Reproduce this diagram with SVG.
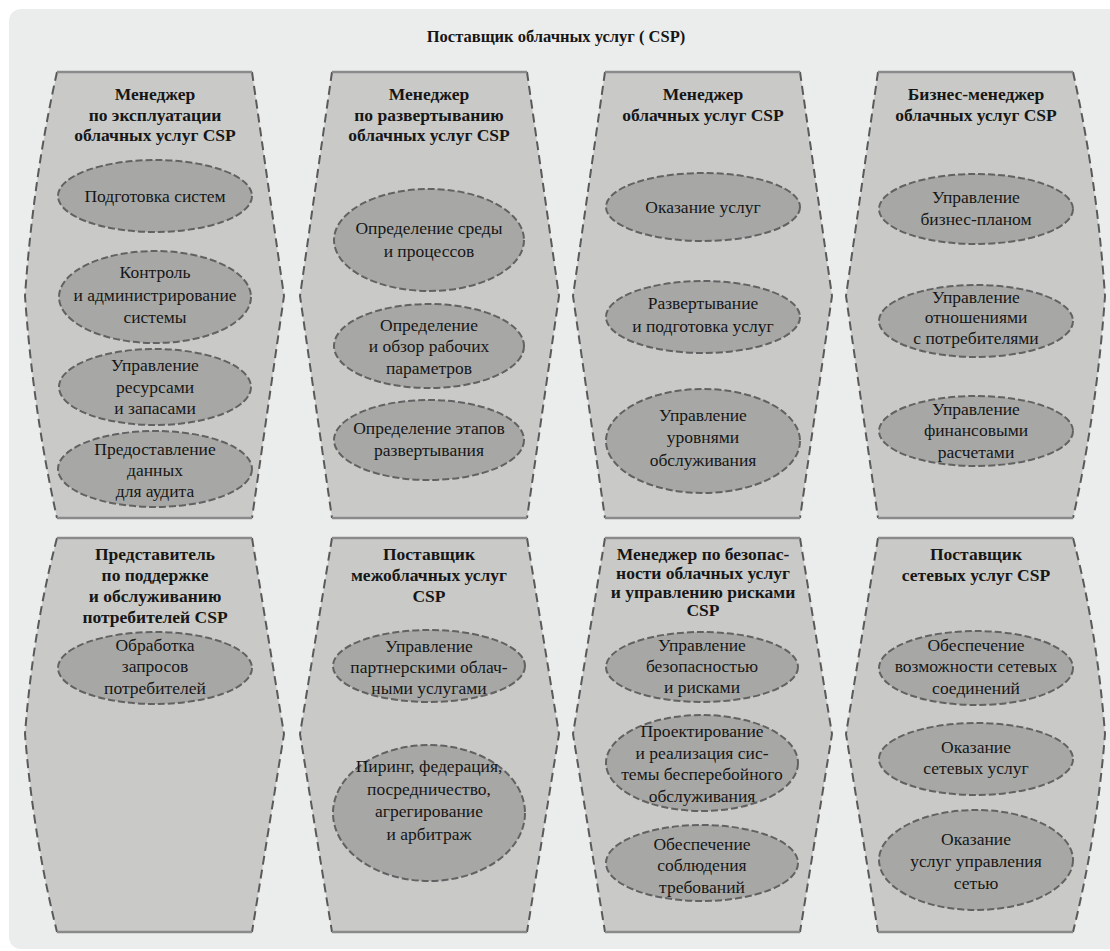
<svg xmlns="http://www.w3.org/2000/svg" width="1110" height="951" viewBox="0 0 1110 951">
  <style>
    .panel { fill: #c9cac8; stroke: none; }
    .side { fill: none; stroke: #5a5a5a; stroke-width: 2; stroke-dasharray: 9 5; }
    .cap { fill: none; stroke: #8a8a8a; stroke-width: 2.5; }
    .oval { fill: #a7a8a6; stroke: #626262; stroke-width: 2; stroke-dasharray: 7 3; }
    text { font-family: 'Liberation Serif', 'DejaVu Serif', serif; fill: #161616; text-anchor: middle; }
    .head { font-size: 17.5px; font-weight: bold; }
    .item { font-size: 17.5px; }
    .title { font-size: 16.5px; font-weight: bold; }
  </style>

  <!-- canvas -->
  <rect x="0" y="0" width="1110" height="951" fill="#ffffff"/>
  <rect x="9" y="9" width="1115" height="940" rx="12" fill="#ebecec"/>

  <text class="title" x="556" y="42">Поставщик облачных услуг ( CSP)</text>

  <!-- top row -->
  <g id="ops-manager">
    <path class="panel" d="M57,72 L252,72 L284,296 L252,518 L57,518 Q33,410 25,296 Q33,180 57,72 Z"/>
    <path class="side" d="M57,72 Q33,180 25,296 Q33,410 57,518 M252,72 L284,296 L252,518"/>
    <path class="cap" d="M57,72 L252,72 M57,518 L252,518"/>
    <text class="head" x="155" y="100">Менеджер</text>
    <text class="head" x="155" y="121">по эксплуатации</text>
    <text class="head" x="155" y="141">облачных услуг CSP</text>
    <ellipse class="oval" cx="155" cy="196" rx="97" ry="36"/>
    <text class="item" x="155" y="202">Подготовка систем</text>
    <ellipse class="oval" cx="155" cy="297" rx="96" ry="46"/>
    <text class="item" x="155" y="278">Контроль</text>
    <text class="item" x="155" y="301">и администрирование</text>
    <text class="item" x="155" y="323">системы</text>
    <ellipse class="oval" cx="155" cy="387" rx="96" ry="38"/>
    <text class="item" x="155" y="371">Управление</text>
    <text class="item" x="155" y="393">ресурсами</text>
    <text class="item" x="155" y="414">и запасами</text>
    <ellipse class="oval" cx="155" cy="469" rx="97" ry="38"/>
    <text class="item" x="155" y="455">Предоставление</text>
    <text class="item" x="155" y="476">данных</text>
    <text class="item" x="155" y="497">для аудита</text>
  </g>

  <g id="deploy-manager">
    <path class="panel" d="M332,72 L527,72 L559,296 L527,518 L332,518 L300,296 Z"/>
    <path class="side" d="M332,72 L300,296 L332,518 M527,72 L559,296 L527,518"/>
    <path class="cap" d="M332,72 L527,72 M332,518 L527,518"/>
    <text class="head" x="429" y="100">Менеджер</text>
    <text class="head" x="429" y="121">по развертыванию</text>
    <text class="head" x="429" y="141">облачных услуг CSP</text>
    <ellipse class="oval" cx="429" cy="240" rx="95" ry="51"/>
    <text class="item" x="429" y="234">Определение среды</text>
    <text class="item" x="429" y="257">и процессов</text>
    <ellipse class="oval" cx="429" cy="346" rx="95" ry="42"/>
    <text class="item" x="429" y="331">Определение</text>
    <text class="item" x="429" y="352">и обзор рабочих</text>
    <text class="item" x="429" y="374">параметров</text>
    <ellipse class="oval" cx="429" cy="440" rx="95" ry="40"/>
    <text class="item" x="429" y="434">Определение этапов</text>
    <text class="item" x="429" y="456">развертывания</text>
  </g>

  <g id="service-manager">
    <path class="panel" d="M605,72 L800,72 L832,296 L800,518 L605,518 L573,296 Z"/>
    <path class="side" d="M605,72 L573,296 L605,518 M800,72 L832,296 L800,518"/>
    <path class="cap" d="M605,72 L800,72 M605,518 L800,518"/>
    <text class="head" x="703" y="100">Менеджер</text>
    <text class="head" x="703" y="121">облачных услуг  CSP</text>
    <ellipse class="oval" cx="703" cy="207" rx="97" ry="34"/>
    <text class="item" x="703" y="213">Оказание услуг</text>
    <ellipse class="oval" cx="703" cy="317" rx="97" ry="36"/>
    <text class="item" x="703" y="309">Развертывание</text>
    <text class="item" x="703" y="332">и подготовка услуг</text>
    <ellipse class="oval" cx="703" cy="441" rx="97" ry="52"/>
    <text class="item" x="703" y="421">Управление</text>
    <text class="item" x="703" y="443">уровнями</text>
    <text class="item" x="703" y="466">обслуживания</text>
  </g>

  <g id="business-manager">
    <path class="panel" d="M878,72 L1073,72 Q1097,180 1105,296 Q1097,410 1073,518 L878,518 L846,296 Z"/>
    <path class="side" d="M878,72 L846,296 L878,518 M1073,72 Q1097,180 1105,296 Q1097,410 1073,518"/>
    <path class="cap" d="M878,72 L1073,72 M878,518 L1073,518"/>
    <text class="head" x="976" y="100">Бизнес-менеджер</text>
    <text class="head" x="976" y="121">облачных услуг  CSP</text>
    <ellipse class="oval" cx="976" cy="209" rx="97" ry="35"/>
    <text class="item" x="976" y="203">Управление</text>
    <text class="item" x="976" y="225">бизнес-планом</text>
    <ellipse class="oval" cx="976" cy="321" rx="97" ry="36"/>
    <text class="item" x="976" y="303">Управление</text>
    <text class="item" x="976" y="323">отношениями</text>
    <text class="item" x="976" y="344">с потребителями</text>
    <ellipse class="oval" cx="976" cy="431" rx="97" ry="35"/>
    <text class="item" x="976" y="415">Управление</text>
    <text class="item" x="976" y="436">финансовыми</text>
    <text class="item" x="976" y="458">расчетами</text>
  </g>

  <!-- bottom row -->
  <g id="customer-support">
    <path class="panel" d="M57,538 L252,538 L284,734 L252,932 L57,932 Q33,835 25,734 Q33,630 57,538 Z"/>
    <path class="side" d="M57,538 Q33,630 25,734 Q33,835 57,932 M252,538 L284,734 L252,932"/>
    <path class="cap" d="M57,538 L252,538 M57,932 L252,932"/>
    <text class="head" x="155" y="560">Представитель</text>
    <text class="head" x="155" y="581">по поддержке</text>
    <text class="head" x="155" y="602">и обслуживанию</text>
    <text class="head" x="155" y="623">потребителей CSP</text>
    <ellipse class="oval" cx="155" cy="668" rx="97" ry="36"/>
    <text class="item" x="155" y="651">Обработка</text>
    <text class="item" x="155" y="672">запросов</text>
    <text class="item" x="155" y="694">потребителей</text>
  </g>

  <g id="intercloud-provider">
    <path class="panel" d="M332,538 L527,538 L559,734 L527,932 L332,932 L300,734 Z"/>
    <path class="side" d="M332,538 L300,734 L332,932 M527,538 L559,734 L527,932"/>
    <path class="cap" d="M332,538 L527,538 M332,932 L527,932"/>
    <text class="head" x="429" y="560">Поставщик</text>
    <text class="head" x="429" y="581">межоблачных услуг</text>
    <text class="head" x="429" y="602">CSP</text>
    <ellipse class="oval" cx="429" cy="666" rx="96" ry="36"/>
    <text class="item" x="429" y="652">Управление</text>
    <text class="item" x="429" y="673">партнерскими облач-</text>
    <text class="item" x="429" y="694">ными услугами</text>
    <ellipse class="oval" cx="429" cy="813" rx="96" ry="68"/>
    <text class="item" x="429" y="772">Пиринг, федерация,</text>
    <text class="item" x="429" y="795">посредничество,</text>
    <text class="item" x="429" y="817">агрегирование</text>
    <text class="item" x="429" y="840">и арбитраж</text>
  </g>

  <g id="security-risk-manager">
    <path class="panel" d="M605,538 L800,538 L832,734 L800,932 L605,932 L573,734 Z"/>
    <path class="side" d="M605,538 L573,734 L605,932 M800,538 L832,734 L800,932"/>
    <path class="cap" d="M605,538 L800,538 M605,932 L800,932"/>
    <text class="head" x="703" y="560">Менеджер по безопас-</text>
    <text class="head" x="703" y="579">ности облачных услуг</text>
    <text class="head" x="703" y="598">и управлению рисками</text>
    <text class="head" x="703" y="616">CSP</text>
    <ellipse class="oval" cx="702" cy="667" rx="96" ry="35"/>
    <text class="item" x="702" y="651">Управление</text>
    <text class="item" x="702" y="672">безопасностью</text>
    <text class="item" x="702" y="693">и рисками</text>
    <ellipse class="oval" cx="702" cy="763" rx="96" ry="48"/>
    <text class="item" x="702" y="737">Проектирование</text>
    <text class="item" x="702" y="759">и реализация сис-</text>
    <text class="item" x="702" y="780">темы бесперебойного</text>
    <text class="item" x="702" y="802">обслуживания</text>
    <ellipse class="oval" cx="702" cy="863" rx="96" ry="38"/>
    <text class="item" x="702" y="850">Обеспечение</text>
    <text class="item" x="702" y="871">соблюдения</text>
    <text class="item" x="702" y="893">требований</text>
  </g>

  <g id="network-provider">
    <path class="panel" d="M878,538 L1073,538 Q1097,630 1105,734 Q1097,835 1073,932 L878,932 L846,734 Z"/>
    <path class="side" d="M878,538 L846,734 L878,932 M1073,538 Q1097,630 1105,734 Q1097,835 1073,932"/>
    <path class="cap" d="M878,538 L1073,538 M878,932 L1073,932"/>
    <text class="head" x="976" y="560">Поставщик</text>
    <text class="head" x="976" y="581">сетевых услуг CSP</text>
    <ellipse class="oval" cx="976" cy="668" rx="97" ry="37"/>
    <text class="item" x="976" y="651">Обеспечение</text>
    <text class="item" x="976" y="672">возможности сетевых</text>
    <text class="item" x="976" y="694">соединений</text>
    <ellipse class="oval" cx="976" cy="759" rx="97" ry="36"/>
    <text class="item" x="976" y="753">Оказание</text>
    <text class="item" x="976" y="774">сетевых услуг</text>
    <ellipse class="oval" cx="976" cy="860" rx="97" ry="50"/>
    <text class="item" x="976" y="845">Оказание</text>
    <text class="item" x="976" y="867">услуг управления</text>
    <text class="item" x="976" y="889">сетью</text>
  </g>

  <!-- no connectors in this diagram -->
  <g id="connectors"/>
</svg>
